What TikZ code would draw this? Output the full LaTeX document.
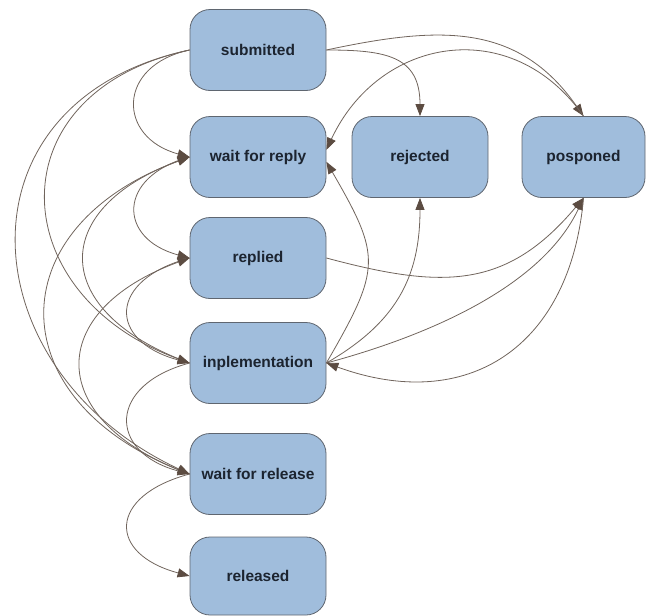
\documentclass[tikz,border=0pt]{standalone}
\usepackage{fontspec}
\setmainfont{Liberation Sans}
\usetikzlibrary{arrows.meta}
\definecolor{boxc}{RGB}{160,189,220}
\definecolor{bordc}{RGB}{95,102,112}
\definecolor{txtc}{RGB}{28,36,48}
\definecolor{edgec}{RGB}{112,100,92}
\definecolor{tipc}{RGB}{92,76,66}
\begin{document}
\begin{tikzpicture}[x=1pt,y=1pt,
  state/.style={rectangle, rounded corners=20pt, minimum width=136pt, minimum height=81pt,
    draw=bordc, fill=boxc, line width=0.8pt, text=txtc,
    font=\fontsize{15.5}{18}\selectfont\bfseries, inner sep=0pt},
  edge/.style={draw=edgec, line width=0.8pt,
    -{Triangle[length=12pt,width=9pt,fill=tipc,color=tipc]}}]
\useasboundingbox (0,0) rectangle (646,-616);
\node[state] (sub) at (258,-50) {submitted};
\node[state] (wfr) at (258,-157) {wait for reply};
\node[state] (rej) at (420,-157) {rejected};
\node[state, minimum width=123pt] (pos) at (583.5,-157) {posponed};
\node[state] (rep) at (258,-258) {replied};
\node[state] (imp) at (258,-363) {inplementation};
\node[state] (wrel) at (258,-474) {wait for release};
\node[state, minimum height=78pt] (rel) at (258,-576) {released};
% left side
\draw[edge] (sub.west) to[out=192,in=165,distance=75pt] (wfr.west);
\draw[edge] (sub.west) to[out=192,in=160,distance=200pt] (imp.west);
\draw[edge] (sub.west) to[out=192,in=155,distance=245pt] (wrel.west);
\draw[edge] (wfr.west) to[out=195,in=165,distance=75pt] (rep.west);
\draw[edge] (imp.west) to[out=160,in=200,distance=150pt] (wfr.west);
\draw[edge] (wrel.west) to[out=160,in=200,distance=205pt] (wfr.west);
\draw[edge] (rep.west) to[out=195,in=165,distance=85pt] (imp.west);
\draw[edge] (wrel.west) to[out=160,in=200,distance=155pt] (rep.west);
\draw[edge] (imp.west) to[out=195,in=165,distance=85pt] (wrel.west);
\draw[edge] (wrel.west) to[out=195,in=165,distance=85pt] (rel.west);
% right side
\draw[edge] (sub.east) to[out=0,in=90,distance=60pt] (rej.north);
\draw[edge] (sub.east) to[out=12,in=125,distance=115pt] (pos.north);
\draw[edge] (pos.north) to[out=125,in=65,distance=125pt] (wfr.6);
\draw[edge] (imp.east) to[out=60,in=-60,distance=110pt] (wfr.-4);
\draw[edge] (imp.east) to[out=30,in=-90,distance=80pt] (rej.south);
\draw[edge] (rep.east) to[out=-15,in=-130,distance=120pt] (pos.south);
\draw[edge] (imp.east) to[out=15,in=-115,distance=100pt] (pos.south);
\draw[edge] (pos.south) to[out=-95,in=-20,distance=150pt] (imp.east);
\end{tikzpicture}
\end{document}
